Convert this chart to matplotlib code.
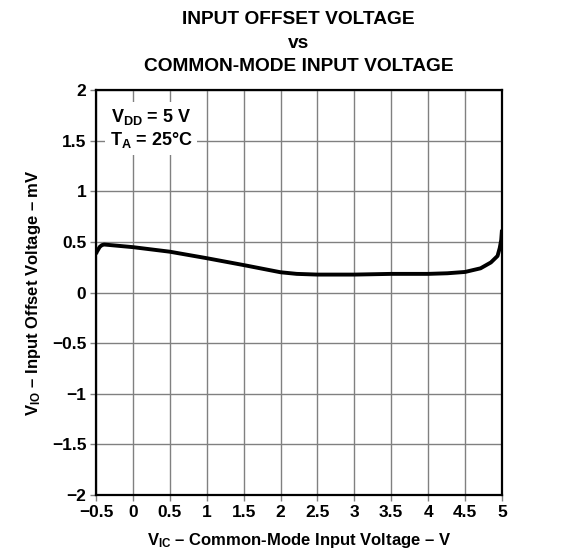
import matplotlib
matplotlib.use("Agg")
import matplotlib.pyplot as plt

plt.rcParams['font.family'] = ['Liberation Sans', 'DejaVu Sans']
plt.rcParams['font.weight'] = 'bold'
plt.rcParams['axes.labelweight'] = 'bold'
plt.rcParams['mathtext.fontset'] = 'custom'
plt.rcParams['mathtext.rm'] = 'Liberation Sans:bold'
plt.rcParams['mathtext.bf'] = 'Liberation Sans:bold'
plt.rcParams['mathtext.default'] = 'rm'

# curve
vic = [-0.5, -0.49, -0.45, -0.42, -0.39, 0.0, 0.5, 1.0, 1.5, 2.0, 2.22, 2.5, 3.0, 3.5, 4.0,
       4.26, 4.5, 4.71, 4.85, 4.94, 4.97, 4.99, 5.0]
vio = [0.38, 0.40, 0.45, 0.468, 0.474, 0.448, 0.403, 0.339, 0.271, 0.20, 0.184, 0.177, 0.177,
       0.184, 0.184, 0.19, 0.203, 0.239, 0.297, 0.361, 0.44, 0.52, 0.62]

xticks = [-0.5, 0, 0.5, 1, 1.5, 2, 2.5, 3, 3.5, 4, 4.5, 5]
xlabels = ['\u22120.5', '0', '0.5', '1', '1.5', '2', '2.5', '3', '3.5', '4', '4.5', '5']
yticks = [-2, -1.5, -1, -0.5, 0, 0.5, 1, 1.5, 2]
ylabels = ['\u22122', '\u22121.5', '\u22121', '\u22120.5', '0', '0.5', '1', '1.5', '2']

fig = plt.figure(figsize=(5.67, 5.57), dpi=100)
ax = fig.add_axes([0.1693, 0.1113, 0.7160, 0.7271])

ax.plot(vic, vio, color='black', linewidth=2.8, solid_capstyle='butt', zorder=3)

ax.set_xlim(-0.5, 5)
ax.set_ylim(-2, 2)
ax.set_xticks(xticks)
ax.set_xticklabels(xlabels)
ax.set_yticks(yticks)
ax.set_yticklabels(ylabels)
ax.tick_params(labelsize=12.5, length=4, width=1, color='#808080', direction='out', pad=3)
ax.grid(True, color='#808080', linewidth=1)
ax.set_axisbelow(True)
for s in ax.spines.values():
    s.set_linewidth(1.6)
    s.set_color('black')

ax.set_xlabel('V$_{IC}$ \u2013 Common-Mode Input Voltage \u2013 V', fontsize=12, labelpad=8)
ax.set_ylabel('V$_{IO}$ \u2013 Input Offset Voltage \u2013 mV', fontsize=12, labelpad=6)

ax.text(0.25, 1.62, 'V$_{DD}$ = 5 V\nT$_{A}$ = 25\u00b0C', fontsize=13, ha='center', va='center',
        linespacing=1.25, zorder=4,
        bbox=dict(boxstyle='square,pad=0.25', facecolor='white', edgecolor='none'))

fig.text(0.527, 0.965, 'INPUT OFFSET VOLTAGE', fontsize=13.8, ha='center', va='center')
fig.text(0.527, 0.922, 'vs', fontsize=13.8, ha='center', va='center')
fig.text(0.527, 0.881, 'COMMON-MODE INPUT VOLTAGE', fontsize=13.8, ha='center', va='center')

fig.savefig('out.png', dpi=100)
